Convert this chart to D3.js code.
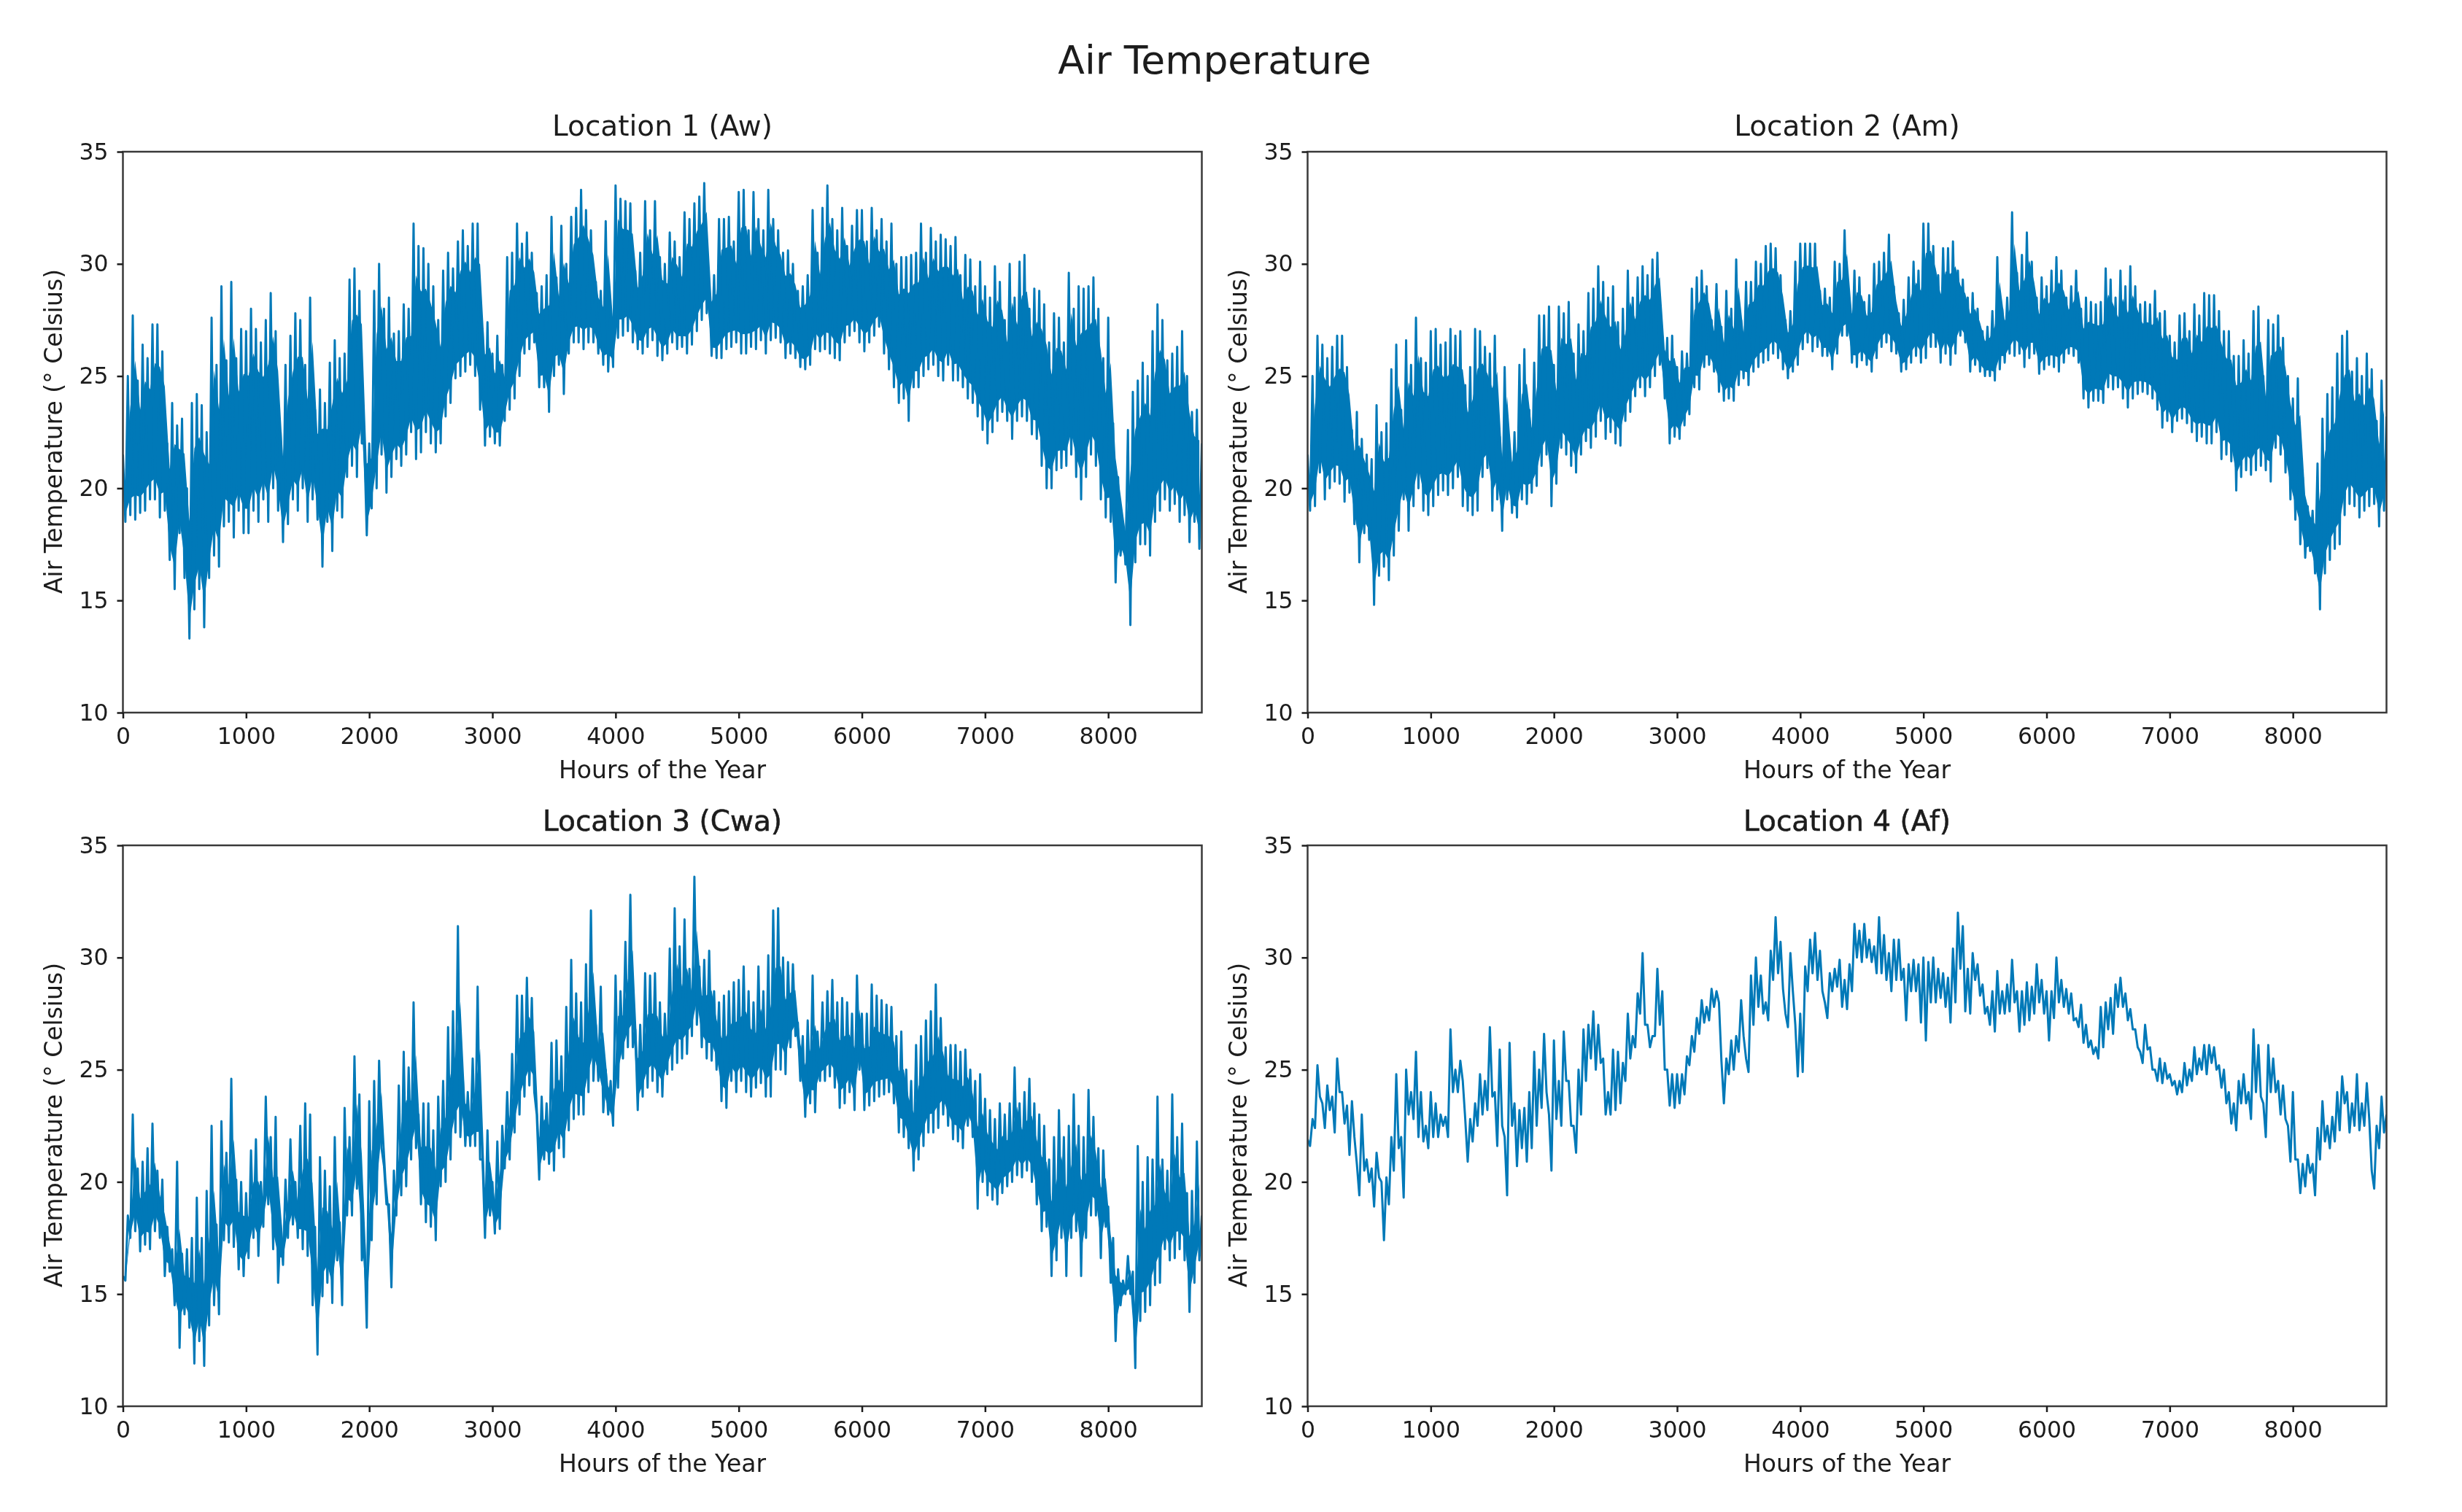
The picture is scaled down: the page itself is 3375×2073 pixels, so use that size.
<!DOCTYPE html>
<html>
<head>
<meta charset="utf-8">
<script src="https://cdn.jsdelivr.net/npm/d3@7"></script>
<style>
  html, body { margin: 0; background: #fff; }
  svg { display: block; filter: blur(0.7px); }
  text { font-family: "DejaVu Sans", sans-serif; fill: #1c1c1c; }
</style>
</head>
<body>
<svg id="chart" width="3375" height="2073"></svg>
<script>
// Values, degrees C. Each row is 1000 hours.
// High[i] sits at hour i*hourStep, Low[i] half a step later.
const hourStep = 40;

const loc1High = [
21.5,25.0,27.7,24.8,26.4,25.8,27.3,27.3,26.1,22.0,23.8,22.8,23.1,20.0,23.8,24.2,23.7,22.5,27.6,25.5,29.0,25.7,29.2,25.8,27.1,
27.0,28.0,27.1,26.5,27.5,28.7,27.0,22.5,25.5,26.8,27.8,27.5,25.5,28.5,23.5,24.4,23.8,25.6,26.6,25.8,26.0,29.3,29.8,28.8,22.0,
22.0,28.8,30.0,28.0,28.5,26.9,27.0,28.2,28.0,31.8,30.8,30.7,30.0,29.0,27.5,29.7,30.5,29.8,31.0,31.5,30.8,31.8,31.8,27.1,27.4,
26.0,26.8,25.5,30.3,30.5,31.8,30.9,31.4,30.5,28.7,29.0,29.5,32.1,29.4,31.7,30.0,32.1,32.5,33.3,32.4,31.5,29.2,28.8,31.9,28.0,
33.5,32.9,32.8,32.7,29.7,30.5,32.8,31.5,32.8,30.3,30.0,31.4,31.0,30.3,32.3,32.0,32.7,33.0,33.6,29.0,29.5,32.0,32.0,32.1,31.0,
33.2,33.3,31.5,33.2,32.0,31.5,33.3,32.0,31.5,30.5,30.6,30.0,28.8,29.0,29.5,32.4,30.5,32.5,33.5,32.0,31.5,32.5,30.8,31.7,32.4,
32.4,31.0,32.5,31.5,32.0,31.0,31.8,30.0,30.3,30.3,30.4,30.5,31.8,30.5,31.6,31.0,31.3,31.1,30.8,31.2,29.5,30.4,30.2,29.0,30.1,
29.0,28.5,29.9,29.2,27.5,30.0,28.5,30.1,30.4,28.0,28.9,28.8,28.2,26.5,27.8,27.6,26.5,29.6,28.0,29.0,28.9,29.0,29.4,28.0,25.8,
27.6,22.9,20.5,18.5,22.6,24.3,24.8,25.6,25.0,27.0,28.2,27.5,25.7,26.0,26.3,27.0,25.0,23.4,23.5,22.0];
const loc1Low = [
18.5,18.8,18.6,18.9,19.0,19.5,19.5,18.7,19.0,16.8,15.5,18.0,16.0,13.3,14.6,15.5,13.8,16.0,17.0,16.5,18.3,18.5,17.8,19.0,18.0,
18.0,19.0,18.5,19.5,18.5,20.0,19.0,17.6,18.4,19.5,19.0,20.0,18.5,19.5,18.6,16.5,18.5,17.2,19.0,18.7,20.5,21.0,20.5,22.0,17.9,
19.1,20.0,21.5,19.8,20.5,21.3,21.0,21.5,22.5,21.3,21.6,22.5,22.0,21.6,22.0,23.2,23.8,24.9,25.0,25.2,25.5,25.0,23.5,21.9,22.3,
22.0,21.9,23.0,23.5,24.0,25.0,26.0,26.2,26.5,24.5,24.5,23.4,25.0,25.5,24.2,26.0,26.5,26.5,26.2,26.5,26.5,26.0,25.5,25.2,25.4,
26.7,26.8,27.0,26.5,26.2,26.0,26.3,26.6,25.9,25.7,26.0,26.5,26.2,26.3,26.0,26.4,27.0,27.5,27.8,25.9,25.8,25.8,26.2,26.3,26.5,
26.0,26.0,26.3,26.2,26.6,26.0,26.6,26.7,26.5,25.8,26.0,25.8,25.4,25.3,25.5,26.2,26.1,26.2,26.0,25.8,25.7,26.5,26.8,27.0,26.5,
26.1,26.5,26.8,27.2,26.0,25.3,24.5,23.8,24.0,23.0,24.5,24.5,25.0,25.3,25.5,25.0,24.8,25.5,24.8,24.8,24.5,24.0,23.8,23.2,22.6,
22.0,22.5,23.0,23.4,23.0,22.2,23.0,23.2,23.0,22.4,22.2,21.0,20.0,20.0,20.8,20.9,21.0,21.5,20.5,19.5,20.5,21.5,21.0,19.5,18.7,
18.5,15.8,17.0,16.6,13.9,16.7,17.5,17.5,17.0,18.5,19.0,19.5,19.0,19.3,18.5,18.8,17.6,18.5,17.3];

const loc2High = [
21.5,25.0,26.8,26.4,25.8,26.3,26.8,26.8,25.4,22.6,23.4,22.2,21.5,21.3,23.7,22.5,22.9,25.3,26.4,23.5,26.6,25.5,27.6,25.8,25.6,
27.0,27.1,26.4,26.5,27.1,26.8,27.0,24.6,25.4,27.1,27.0,26.3,26.0,26.8,22.3,25.4,21.8,22.5,25.5,26.2,23.5,25.6,27.7,27.7,28.1,
25.5,28.1,27.8,28.3,26.0,27.3,27.0,28.7,28.9,29.9,29.2,28.5,29.0,27.4,28.0,29.7,28.5,29.4,29.9,29.5,30.2,30.5,26.8,26.7,26.8,
25.4,26.1,26.0,28.9,29.4,29.7,29.0,27.5,29.1,27.2,28.8,28.0,30.2,27.5,29.2,29.2,30.1,30.0,30.8,30.9,30.7,29.5,27.5,27.9,30.1,
30.9,30.9,30.9,30.9,28.8,28.9,28.5,30.1,30.0,31.5,28.4,29.7,29.4,28.3,28.6,30.0,30.1,30.5,31.3,29.0,27.8,28.4,29.4,30.1,29.7,
31.8,31.8,30.8,29.5,30.7,30.7,31.0,29.7,29.3,28.5,28.7,28.0,27.0,27.2,27.9,30.3,28.0,28.5,32.3,29.6,30.4,31.4,30.1,28.5,29.4,
29.0,29.7,30.3,29.7,28.5,29.0,29.7,28.0,28.5,28.3,28.2,28.3,29.8,29.3,28.5,29.7,29.0,29.9,29.0,28.2,28.3,28.2,28.8,27.8,27.9,
26.8,26.5,27.7,27.8,27.0,28.2,27.7,28.7,28.6,28.6,27.9,27.0,27.0,25.9,25.9,26.6,26.0,27.9,28.1,25.0,27.5,27.3,27.7,26.7,25.0,
24.0,24.9,20.5,19.2,19.0,21.1,23.1,24.2,24.5,26.0,26.8,27.0,25.2,25.8,25.0,26.0,25.3,23.0,24.8,23.2];
const loc2Low = [
19.0,19.2,20.7,19.5,20.0,20.3,20.2,19.4,19.8,18.4,16.7,18.0,17.7,14.8,16.1,16.5,15.9,17.0,18.1,19.5,18.1,19.2,20.0,19.0,18.8,
19.2,19.7,19.9,19.7,20.0,20.5,19.2,19.0,18.8,19.0,20.5,20.9,19.0,19.5,18.1,19.5,18.9,18.7,19.5,19.3,19.8,20.1,21.0,21.5,19.2,
20.2,21.8,21.5,21.0,20.7,21.5,22.1,21.8,22.3,23.0,22.2,22.5,22.0,21.9,23.0,23.4,24.1,24.5,24.1,24.5,25.0,25.5,24.0,22.0,22.3,
22.2,22.8,23.3,24.5,24.4,25.4,25.5,25.2,24.3,23.9,24.0,23.9,24.6,24.9,24.6,25.2,25.4,25.6,25.7,26.0,25.8,25.3,24.9,25.2,25.5,
26.2,26.5,26.1,26.3,25.9,25.9,25.3,26.0,26.8,26.8,25.6,25.4,25.7,25.5,25.2,25.8,26.3,26.5,26.1,26.0,25.2,25.3,25.6,25.9,25.6,
25.8,26.3,26.3,25.6,26.0,25.5,26.0,26.8,26.5,25.2,25.5,25.2,25.0,25.0,24.8,25.3,25.6,26.0,25.9,26.0,25.4,25.8,26.0,25.1,25.3,
25.5,25.4,25.2,25.6,26.0,25.9,25.6,24.0,23.6,23.9,23.9,23.8,24.5,24.4,24.5,24.0,23.6,24.0,24.2,24.3,24.2,24.0,23.5,22.7,23.0,
22.5,23.0,23.1,22.9,22.5,22.1,22.3,22.0,22.0,22.5,21.3,21.5,21.2,19.9,20.5,20.8,20.6,20.8,21.0,20.8,20.3,21.8,21.5,20.7,19.5,
18.6,17.5,16.9,17.2,16.2,14.6,16.2,16.8,17.3,17.5,18.8,19.3,19.2,18.7,19.0,19.2,19.3,18.3,19.0];

const loc3High = [
15.8,18.5,23.0,20.6,20.9,21.5,22.6,20.5,20.1,18.0,17.0,20.9,16.8,17.0,17.5,19.3,17.5,19.6,22.5,18.1,22.7,21.3,24.6,20.1,20.0,
19.5,21.4,21.9,20.0,23.8,22.0,22.9,18.1,20.1,21.9,20.0,22.5,23.5,23.0,18.0,21.1,20.5,19.8,22.0,18.2,23.3,22.0,25.6,23.9,17.4,
23.6,24.5,25.4,20.7,19.0,20.5,24.3,25.8,25.1,28.0,23.0,23.5,23.5,22.3,23.8,24.5,26.9,27.6,31.4,24.6,24.0,25.5,28.7,21.0,22.3,
20.0,21.8,22.5,24.0,25.7,28.3,28.3,29.1,28.2,23.0,23.8,23.5,26.2,26.3,25.6,27.8,29.9,28.4,28.0,29.7,32.1,27.0,28.7,25.0,24.5,
29.2,28.5,30.7,32.8,26.8,27.0,29.3,29.2,29.3,28.0,27.5,30.4,32.2,30.5,31.7,29.5,33.6,29.6,29.9,30.3,28.5,28.0,28.3,28.5,28.9,
29.0,29.6,28.5,28.0,29.6,28.5,30.1,32.1,32.2,30.0,29.8,29.7,27.1,26.5,27.2,29.2,26.7,28.0,28.5,29.0,28.0,28.2,28.0,27.5,29.2,
27.5,27.5,28.8,28.3,28.1,27.9,27.8,26.5,26.7,25.0,24.5,26.1,26.5,27.2,27.6,28.8,27.3,26.0,26.1,26.1,25.8,25.9,25.0,24.5,24.8,
23.7,23.2,22.8,23.5,23.0,23.5,25.1,23.5,24.0,24.6,23.5,23.0,22.5,21.0,22.0,23.2,22.0,22.5,23.9,22.5,22.0,24.1,22.9,21.5,21.4,
18.9,17.5,16.1,15.6,16.7,16.0,21.6,20.0,21.1,21.0,23.8,21.0,20.5,23.9,22.0,22.6,19.5,19.6,21.8,18.5];
const loc3Low = [
15.6,17.5,17.8,16.9,17.2,17.0,17.8,17.5,15.8,16.0,14.5,12.6,14.1,13.5,11.9,12.9,11.8,13.6,14.5,14.1,17.4,17.3,17.1,16.1,15.8,
16.6,17.5,16.7,18.0,19.0,17.0,15.5,16.3,17.5,18.1,17.5,17.0,16.7,14.5,12.3,14.9,15.5,14.6,16.5,14.5,18.5,18.5,19.7,16.5,13.5,
17.4,19.0,21.5,19.0,15.3,18.5,19.4,19.8,21.0,21.5,19.0,18.2,18.0,17.4,19.8,20.0,21.0,22.2,22.0,21.6,21.6,21.6,21.0,17.5,18.5,
17.7,17.9,20.6,21.0,22.2,23.0,23.8,24.3,24.0,20.1,21.0,20.8,20.5,21.5,21.1,22.3,22.8,23.0,23.0,24.0,24.5,24.5,23.1,23.0,22.5,
24.2,25.5,26.0,26.0,23.2,23.8,24.2,24.5,24.0,23.8,24.8,25.0,25.3,25.5,25.7,26.5,27.0,26.0,25.5,25.4,25.0,23.6,23.3,24.5,24.0,
24.5,24.0,23.8,24.2,24.4,23.8,23.8,25.0,25.0,24.8,26.0,26.5,24.5,22.9,23.5,23.1,24.5,24.5,24.7,24.2,23.3,23.5,24.0,23.2,25.0,
23.2,23.4,23.6,23.8,23.9,24.0,23.5,22.2,22.0,21.5,20.5,21.0,21.6,22.2,22.2,22.4,23.0,22.5,21.9,21.8,21.5,22.5,22.0,18.8,20.0,
19.4,19.2,19.0,19.5,19.8,20.0,20.3,20.2,20.5,20.0,19.0,17.8,18.0,15.8,16.5,17.5,15.8,17.5,17.8,15.8,17.5,18.5,18.5,16.6,18.0,
15.5,12.9,14.5,15.0,15.0,11.7,13.8,14.2,14.5,15.4,15.5,17.0,16.5,16.6,17.0,16.5,14.2,15.5,16.5];

const loc4High = [
21.9,22.8,25.2,23.5,24.3,23.8,25.5,24.0,23.4,23.6,20.8,23.0,21.0,20.6,21.3,20.0,20.2,22.0,24.8,22.0,25.0,24.0,25.8,24.0,22.5,
24.0,23.5,23.0,22.9,26.8,25.0,25.4,22.8,22.8,23.5,24.8,24.5,26.9,24.0,25.9,22.0,26.2,23.5,23.2,23.3,24.0,25.8,25.0,26.6,23.0,
26.3,24.5,26.7,24.5,22.5,25.0,26.8,27.0,27.6,27.0,25.5,24.0,25.9,25.8,25.3,27.5,26.5,28.4,30.2,27.0,26.5,29.5,28.5,25.0,24.8,
24.8,24.8,25.6,26.5,27.3,28.1,27.8,28.6,28.5,25.4,25.5,26.3,26.5,28.1,25.5,29.2,30.0,29.2,28.0,30.3,31.8,30.7,27.5,30.2,27.0,
27.5,29.6,30.8,31.1,30.3,28.0,29.3,29.5,29.9,29.0,29.7,31.5,31.2,31.5,30.8,30.5,31.8,31.0,30.2,30.8,30.8,29.5,29.7,29.9,29.7,
30.0,29.8,30.0,29.5,29.3,29.1,30.4,32.0,31.4,29.5,30.2,29.7,28.8,27.8,28.5,29.4,28.5,28.8,29.9,28.5,28.5,28.9,28.7,29.7,29.0,
28.5,28.5,30.0,29.0,28.6,28.4,27.3,27.9,27.0,26.3,26.0,27.8,28.0,28.2,28.8,29.1,28.4,27.7,26.8,25.8,27.0,26.0,25.0,25.5,25.3,
24.8,24.5,24.5,25.3,25.0,26.0,25.5,26.1,26.1,26.0,25.2,25.0,24.0,23.5,24.5,24.8,24.0,26.8,26.1,23.5,26.1,25.5,24.5,24.3,22.5,
24.0,21.0,20.8,21.2,20.8,22.4,23.6,22.5,22.9,24.0,24.7,24.0,23.5,24.8,23.5,24.4,20.5,22.5,23.8,23.0];
const loc4Low = [
21.6,22.4,23.8,22.4,23.2,22.2,24.0,22.6,21.2,22.0,19.4,20.5,20.0,18.9,20.2,17.4,19.0,20.5,21.5,19.3,23.0,22.8,22.0,21.8,21.5,
22.0,22.0,22.5,22.0,24.0,24.0,24.5,20.9,21.8,22.5,23.0,23.2,23.8,21.6,22.5,19.4,22.5,20.7,21.5,20.9,21.5,22.5,23.3,24.0,20.5,
22.8,22.5,24.5,22.5,21.3,23.0,24.5,25.5,25.0,25.3,23.0,23.0,23.2,23.5,24.5,25.5,26.0,27.5,27.0,26.0,26.5,27.0,25.0,23.4,23.3,
23.5,23.9,25.2,25.8,26.6,27.1,27.2,27.8,28.0,23.5,24.8,25.0,25.8,26.5,24.9,27.0,27.8,27.5,27.2,29.0,29.3,28.6,26.9,28.5,24.7,
24.9,28.5,29.3,29.0,28.5,27.3,28.5,28.7,27.8,27.7,28.5,30.0,29.8,30.0,29.8,29.3,29.3,29.0,28.5,29.0,29.0,27.2,28.5,28.5,27.1,
26.3,28.0,28.0,28.2,27.8,27.1,28.0,29.5,27.6,27.5,29.0,28.3,27.5,27.0,26.7,27.5,27.5,27.6,28.0,26.7,27.0,27.2,27.5,28.0,27.5,
26.3,27.3,28.0,27.8,27.5,27.2,26.9,26.2,26.0,25.7,25.5,26.0,26.8,26.6,27.8,27.8,27.2,26.8,26.0,25.3,25.9,25.0,24.5,24.4,24.6,
24.3,23.9,24.0,24.3,24.5,24.8,25.0,24.8,25.3,25.0,24.2,23.5,22.6,22.3,23.5,23.5,22.8,24.0,23.8,22.0,24.0,24.0,23.0,22.8,20.9,
21.0,19.5,19.8,20.4,19.4,21.0,21.8,21.5,21.8,22.3,23.5,22.2,22.5,22.3,22.5,22.8,19.7,21.5,22.2];

const panelTitles = ["Location 1 (Aw)", "Location 2 (Am)", "Location 3 (Cwa)", "Location 4 (Af)"];
const panelHighs = [loc1High, loc2High, loc3High, loc4High];
const panelLows = [loc1Low, loc2Low, loc3Low, loc4Low];
const xTicks = [0, 1000, 2000, 3000, 4000, 5000, 6000, 7000, 8000];
const yTicks = [10, 15, 20, 25, 30, 35];

const lineColor = "#0079b8";
const inkColor = "#1c1c1c";
const panelWidth = 1479;
const panelHeight = 769;
const columns = [168.5, 1792.5];
const rows = [208, 1159];
// how far up each daily swing the line work reads as solid
const solidTop = [0.78, 0.78, 0.64, 0];
const solidBottom = [0.12, 0.12, 0.16, 0];

const svg = d3.select("#chart");

svg.append("text")
  .attr("x", 1665)
  .attr("y", 101)
  .attr("text-anchor", "middle")
  .style("font-size", "53.5px")
  .text("Air Temperature");

const x = d3.scaleLinear([0, 8760], [0, panelWidth]);
const y = d3.scaleLinear([10, 35], [panelHeight, 0]);

// a zigzag through the daily highs and lows
const line = d3.line()
  .x(d => x(d[0]))
  .y(d => y(d[1]));

function zigzag(high, low) {
  const points = [];
  high.forEach((v, i) => {
    points.push([i * hourStep, v]);
    if (i < low.length) points.push([i * hourStep + hourStep / 2, low[i]]);
  });
  return points;
}

// the overplotted daily swings merge into a solid core, only the tips stand out
function solidBand(high, low, topShare, bottomShare) {
  return low.map((v, i) => ({
    hour: i * hourStep + hourStep / 2,
    top: v + (high[i] - v) * topShare,
    bottom: v + (high[i] - v) * bottomShare
  }));
}

const band = d3.area()
  .x(d => x(d.hour))
  .y0(d => y(d.bottom))
  .y1(d => y(d.top));

panelTitles.forEach((title, i) => {
  const left = columns[i % 2];
  const top = rows[Math.floor(i / 2)];
  const g = svg.append("g").attr("transform", `translate(${left},${top})`);
  const clip = "clip-" + i;

  g.append("clipPath")
    .attr("id", clip)
    .append("rect")
    .attr("width", panelWidth)
    .attr("height", panelHeight);

  // location 4 swings too little to merge
  if (i < 3) {
    g.append("path")
      .attr("clip-path", `url(#${clip})`)
      .attr("fill", lineColor)
      .attr("d", band(solidBand(panelHighs[i], panelLows[i], solidTop[i], solidBottom[i])));
  }

  g.append("path")
    .attr("clip-path", `url(#${clip})`)
    .attr("fill", "none")
    .attr("stroke", lineColor)
    .attr("stroke-width", 3)
    .attr("stroke-linejoin", "round")
    .attr("d", line(zigzag(panelHighs[i], panelLows[i])));

  g.append("rect")
    .attr("width", panelWidth)
    .attr("height", panelHeight)
    .attr("fill", "none")
    .attr("stroke", "#3a3a3a")
    .attr("stroke-width", 2.5);

  const gx = g.append("g")
    .attr("transform", `translate(0,${panelHeight})`)
    .call(d3.axisBottom(x).tickValues(xTicks).tickFormat(d3.format("d")).tickSize(8).tickPadding(13));
  const gy = g.append("g")
    .call(d3.axisLeft(y).tickValues(yTicks).tickFormat(d3.format("d")).tickSize(8).tickPadding(12));

  [gx, gy].forEach(a => {
    a.select(".domain").remove();
    a.selectAll(".tick line").attr("stroke", inkColor).attr("stroke-width", 2.5);
    a.selectAll(".tick text").style("font-size", "31.5px").attr("fill", inkColor);
  });

  // the two lower titles look heavier in the picture
  g.append("text")
    .attr("x", panelWidth / 2)
    .attr("y", i > 1 ? -20 : -22)
    .attr("text-anchor", "middle")
    .style("font-size", "39px")
    .style("stroke", i > 1 ? inkColor : "none")
    .style("stroke-width", i > 1 ? 0.6 : 0)
    .text(title);

  g.append("text")
    .attr("x", panelWidth / 2)
    .attr("y", panelHeight + 90)
    .attr("text-anchor", "middle")
    .style("font-size", "33px")
    .text("Hours of the Year");

  g.append("text")
    .attr("transform", `translate(-84,${panelHeight / 2 - 1}) rotate(-90)`)
    .attr("text-anchor", "middle")
    .style("font-size", "33px")
    .text("Air Temperature (° Celsius)");
});
</script>
</body>
</html>
